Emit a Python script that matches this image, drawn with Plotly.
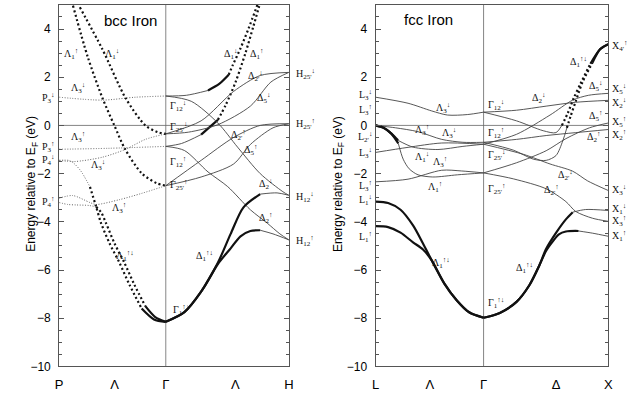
import plotly.graph_objects as go

# ---------------------------------------------------------------------------
# Band energies (eV, relative to E_F) along the high-symmetry paths.
# k is the distance along the path in units of 2*pi/a.
# bcc: P (0) - Gamma (0.866) - H (1.866);  fcc: L (0) - Gamma (0.866) - X (1.866)
# ---------------------------------------------------------------------------

# ----- bcc iron, Lambda line (P -> Gamma) -----
bcc_lam3_dn_hi_k = [0, 0.35, 0.62, 0.866]
bcc_lam3_dn_hi_e = [1.17, 1.05, 1.17, 1.22]
bcc_lam3_up_hi_k = [0, 0.4, 0.866]
bcc_lam3_up_hi_e = [-0.99, -0.95, -0.87]
bcc_lam3_dn_lo_k = [0, 0.12, 0.35, 0.54, 0.70, 0.866]
bcc_lam3_dn_lo_e = [-1.45, -1.5, -1.32, -0.99, -0.58, -0.35]
bcc_lam3_up_lo_k = [0, 0.11, 0.25, 0.30, 0.49, 0.67, 0.866]
bcc_lam3_up_lo_e = [-3.02, -2.91, -3.2, -3.28, -3.08, -2.82, -2.5]
bcc_lam1_dn_sp_k = [0.168, 0.35, 0.54, 0.70, 0.80, 0.866]
bcc_lam1_dn_sp_e = [4.9, 3.17, 1.13, 0.0, -0.28, -0.35]
bcc_lam1_up_sp_k = [0.112, 0.232, 0.352, 0.448, 0.536, 0.673, 0.793, 0.866]
bcc_lam1_up_sp_e = [4.97, 2.84, 1.13, 0.0, -0.99, -2.0, -2.4, -2.5]
bcc_lam1_dn_lo_k = [0, 0.09, 0.17, 0.25, 0.30, 0.34, 0.41, 0.49, 0.57, 0.67, 0.77, 0.866]
bcc_lam1_dn_lo_e = [-1.45, -1.47, -1.85, -2.55, -3.37, -4.05, -4.9, -5.7, -6.6, -7.6, -8.05, -8.15]
bcc_lam1_up_lo_k = [0, 0.07, 0.14, 0.24, 0.30, 0.34, 0.38, 0.45, 0.53, 0.61, 0.70, 0.78, 0.866]
bcc_lam1_up_lo_e = [-3.2, -3.28, -3.3, -3.32, -3.38, -3.6, -4.05, -4.9, -5.7, -6.6, -7.5, -7.95, -8.15]

# ----- bcc iron, Delta line (Gamma -> H) -----
bcc_del1_dn_hi_k = [0.866, 1.033, 1.209, 1.30, 1.377, 1.41, 1.473, 1.537, 1.61]
bcc_del1_dn_hi_e = [1.22, 1.25, 1.45, 1.72, 2.1, 2.5, 3.2, 4.0, 5.0]
bcc_del1_up_hi_k = [0.866, 0.994, 1.153, 1.289, 1.353, 1.433, 1.513, 1.577, 1.625]
bcc_del1_up_hi_e = [-0.87, -0.75, -0.38, 0.23, 0.85, 1.8, 3.0, 4.1, 4.95]
bcc_del2_dn_k = [0.866, 1.073, 1.289, 1.449, 1.633, 1.817, 1.866]
bcc_del2_dn_e = [1.22, 1.0, 0.1, -0.9, -2.0, -2.75, -2.9]
bcc_del2_up_k = [0.866, 1.017, 1.209, 1.369, 1.553, 1.689, 1.793, 1.866]
bcc_del2_up_e = [-0.87, -1.04, -1.93, -2.54, -3.5, -4.05, -4.5, -4.75]
bcc_del2p_dn_k = [0.866, 1.153, 1.417, 1.633, 1.866]
bcc_del2p_dn_e = [-0.35, 0.19, 1.41, 2.07, 2.2]
bcc_del5_dn_k = [0.866, 1.05, 1.289, 1.553, 1.72, 1.866]
bcc_del5_dn_e = [-0.35, -0.28, 0.03, 0.8, 1.8, 2.2]
bcc_del2p_up_k = [0.866, 1.153, 1.417, 1.633, 1.866]
bcc_del2p_up_e = [-2.5, -1.45, -0.5, 0.0, 0.07]
bcc_del5_up_k = [0.866, 1.153, 1.417, 1.553, 1.737, 1.866]
bcc_del5_up_e = [-2.5, -2.14, -1.6, -0.79, -0.1, 0.07]
bcc_del1_dn_lo_k = [0.866, 1.017, 1.153, 1.289, 1.393, 1.497, 1.633, 1.77, 1.866]
bcc_del1_dn_lo_e = [-8.15, -7.75, -6.9, -5.7, -4.5, -3.4, -2.85, -2.8, -2.9]
bcc_del1_up_lo_k = [0.866, 1.017, 1.153, 1.289, 1.393, 1.473, 1.553, 1.633, 1.737, 1.866]
bcc_del1_up_lo_e = [-8.15, -7.75, -6.9, -5.75, -5.1, -4.6, -4.38, -4.35, -4.5, -4.75]

# ----- fcc iron, Lambda line (L -> Gamma) -----
fcc_lam3_dn_hi_k = [0, 0.26, 0.45, 0.577, 0.735, 0.866]
fcc_lam3_dn_hi_e = [1.17, 0.92, 0.6, 0.43, 0.45, 0.55]
fcc_lam3_up_hi_k = [0, 0.16, 0.34, 0.53, 0.70, 0.866]
fcc_lam3_up_hi_e = [0.0, -0.1, -0.26, -0.58, -0.7, -0.7]
fcc_lam3_dn_lo_k = [0, 0.26, 0.53, 0.866]
fcc_lam3_dn_lo_e = [-1.12, -0.91, -0.73, -0.78]
fcc_lam3_up_lo_k = [0, 0.26, 0.53, 0.69, 0.866]
fcc_lam3_up_lo_e = [-2.34, -2.23, -1.86, -1.89, -1.97]
fcc_lam1_dn_sp_k = [0, 0.063, 0.126, 0.18, 0.30, 0.50, 0.70, 0.866]
fcc_lam1_dn_sp_e = [0.0, -0.1, -0.34, -0.62, -0.9, -1.0, -0.87, -0.78]
fcc_lam1_up_sp_k = [0, 0.063, 0.126, 0.182, 0.221, 0.269, 0.34, 0.458, 0.656, 0.866]
fcc_lam1_up_sp_e = [0.0, -0.1, -0.34, -0.75, -1.4, -1.8, -2.05, -2.14, -2.05, -1.97]
fcc_lam1_lo_k = [0, 0.1, 0.2, 0.3, 0.38, 0.45, 0.55, 0.65, 0.75, 0.866]
fcc_lam1_dn_lo_e = [-3.16, -3.22, -3.5, -4.15, -4.9, -5.6, -6.55, -7.25, -7.75, -7.98]
fcc_lam1_up_lo_e = [-4.18, -4.22, -4.45, -4.85, -5.15, -5.6, -6.55, -7.25, -7.75, -7.98]

# ----- fcc iron, Delta line (Gamma -> X) -----
fcc_del1_dn_lo_k = [0.866, 0.996, 1.13, 1.233, 1.312, 1.368, 1.447, 1.526, 1.581, 1.684, 1.866]
fcc_del1_dn_lo_e = [-7.98, -7.78, -7.32, -6.63, -5.82, -5.12, -4.46, -3.9, -3.6, -3.49, -3.53]
fcc_del1_up_lo_k = [0.866, 0.996, 1.13, 1.233, 1.312, 1.368, 1.423, 1.47, 1.526, 1.628, 1.739, 1.866]
fcc_del1_up_lo_e = [-7.98, -7.78, -7.32, -6.63, -5.82, -5.2, -4.8, -4.52, -4.4, -4.38, -4.47, -4.6]
fcc_del2p_up_k = [0.866, 1.107, 1.368, 1.526, 1.605, 1.739, 1.866]
fcc_del2p_up_e = [-1.97, -2.22, -2.63, -3.16, -3.57, -3.85, -3.98]
fcc_del2p_dn_k = [0.866, 1.186, 1.399, 1.581, 1.70, 1.866]
fcc_del2p_dn_e = [-0.78, -1.2, -1.6, -1.9, -2.3, -2.7]
fcc_del5_up_k = [0.866, 1.13, 1.368, 1.526, 1.715, 1.866]
fcc_del5_up_e = [-1.97, -1.55, -1.05, -0.55, -0.1, 0.1]
fcc_del5_dn_k = [0.866, 1.13, 1.399, 1.581, 1.708, 1.866]
fcc_del5_dn_e = [-0.78, -0.37, 0.43, 1.05, 1.25, 1.33]
fcc_del2_k = [0.866, 1.13, 1.368, 1.605, 1.866]
fcc_del2_dn_e = [0.55, 0.63, 0.8, 0.96, 1.04]
fcc_del2_up_e = [-0.7, -0.58, -0.42, -0.3, -0.17]
fcc_del1_dn_hi_k = [0.866, 1.13, 1.344, 1.447, 1.494, 1.542, 1.589, 1.644, 1.723, 1.802, 1.866]
fcc_del1_dn_hi_e = [0.55, 0.19, -0.22, -0.3, 0.0, 0.52, 1.13, 1.74, 2.56, 3.17, 3.37]
fcc_del1_up_hi_k = [0.866, 1.107, 1.265, 1.368, 1.447, 1.502, 1.534, 1.565, 1.605, 1.66, 1.739, 1.802, 1.866]
fcc_del1_up_hi_e = [-0.7, -1.03, -1.4, -1.45, -1.25, -0.63, -0.1, 0.4, 1.0, 1.8, 2.6, 3.17, 3.37]

# axis tick labels
bcc_kpts = [0, 0.45, 0.866, 1.43, 1.866]
bcc_klabels = ["P", "Λ", "Γ", "Λ", "H"]
fcc_kpts = [0, 0.435, 0.866, 1.447, 1.866]
fcc_klabels = ["L", "Λ", "Γ", "Δ", "X"]
e_ticks = [-10, -8, -6, -4, -2, 0, 2, 4]
K_END = 1.866

# ---------------------------------------------------------------------------
LINE = {
    "thin": dict(color="#444444", width=0.9),
    "dot": dict(color="#666666", width=1.0, dash="1px,1.6px"),
    "thick": dict(color="#111111", width=2.2),
    "sp": dict(color="#111111", width=2.2, dash="2px,2.6px"),
}

fig = go.Figure()


def add_band(k, e, panel, segs=None):
    xa, ya = ("x", "y") if panel == 1 else ("x2", "y2")
    if segs is None:
        segs = [(0, len(k) - 1, "thin")]
    for i0, i1, st in segs:
        fig.add_trace(go.Scatter(
            x=k[i0:i1 + 1], y=e[i0:i1 + 1], mode="lines",
            line=dict(shape="spline", smoothing=0.8, **LINE[st]),
            xaxis=xa, yaxis=ya, hoverinfo="skip", showlegend=False))


def full(k, style):
    return [(0, len(k) - 1, style)]


# bcc, P - Gamma
add_band(bcc_lam3_dn_hi_k, bcc_lam3_dn_hi_e, 1, full(bcc_lam3_dn_hi_k, "dot"))
add_band(bcc_lam3_up_hi_k, bcc_lam3_up_hi_e, 1, full(bcc_lam3_up_hi_k, "dot"))
add_band(bcc_lam3_dn_lo_k, bcc_lam3_dn_lo_e, 1, full(bcc_lam3_dn_lo_k, "dot"))
add_band(bcc_lam3_up_lo_k, bcc_lam3_up_lo_e, 1, full(bcc_lam3_up_lo_k, "dot"))
add_band(bcc_lam1_dn_sp_k, bcc_lam1_dn_sp_e, 1, full(bcc_lam1_dn_sp_k, "sp"))
add_band(bcc_lam1_up_sp_k, bcc_lam1_up_sp_e, 1, full(bcc_lam1_up_sp_k, "sp"))
add_band(bcc_lam1_dn_lo_k, bcc_lam1_dn_lo_e, 1, [(0, 3, "dot"), (3, 9, "sp"), (9, 11, "thick")])
add_band(bcc_lam1_up_lo_k, bcc_lam1_up_lo_e, 1, [(0, 4, "dot"), (4, 10, "sp"), (10, 12, "thick")])

# bcc, Gamma - H
add_band(bcc_del1_dn_hi_k, bcc_del1_dn_hi_e, 1, [(0, 2, "thin"), (2, 4, "thick"), (4, 8, "sp")])
add_band(bcc_del1_up_hi_k, bcc_del1_up_hi_e, 1, [(0, 2, "thin"), (2, 3, "thick"), (3, 8, "sp")])
add_band(bcc_del2_dn_k, bcc_del2_dn_e, 1)
add_band(bcc_del2_up_k, bcc_del2_up_e, 1)
add_band(bcc_del2p_dn_k, bcc_del2p_dn_e, 1)
add_band(bcc_del5_dn_k, bcc_del5_dn_e, 1)
add_band(bcc_del2p_up_k, bcc_del2p_up_e, 1)
add_band(bcc_del5_up_k, bcc_del5_up_e, 1)
add_band(bcc_del1_dn_lo_k, bcc_del1_dn_lo_e, 1, [(0, 6, "thick"), (6, 8, "thin")])
add_band(bcc_del1_up_lo_k, bcc_del1_up_lo_e, 1, [(0, 7, "thick"), (7, 9, "thin")])

# fcc, L - Gamma
add_band(fcc_lam3_dn_hi_k, fcc_lam3_dn_hi_e, 2)
add_band(fcc_lam3_up_hi_k, fcc_lam3_up_hi_e, 2)
add_band(fcc_lam3_dn_lo_k, fcc_lam3_dn_lo_e, 2)
add_band(fcc_lam3_up_lo_k, fcc_lam3_up_lo_e, 2)
add_band(fcc_lam1_dn_sp_k, fcc_lam1_dn_sp_e, 2, [(0, 3, "thick"), (3, 7, "thin")])
add_band(fcc_lam1_up_sp_k, fcc_lam1_up_sp_e, 2, [(0, 3, "thick"), (3, 9, "thin")])
add_band(fcc_lam1_lo_k, fcc_lam1_dn_lo_e, 2, full(fcc_lam1_lo_k, "thick"))
add_band(fcc_lam1_lo_k, fcc_lam1_up_lo_e, 2, full(fcc_lam1_lo_k, "thick"))

# fcc, Gamma - X
add_band(fcc_del1_dn_lo_k, fcc_del1_dn_lo_e, 2, [(0, 8, "thick"), (8, 10, "thin")])
add_band(fcc_del1_up_lo_k, fcc_del1_up_lo_e, 2, [(0, 9, "thick"), (9, 11, "thin")])
add_band(fcc_del2p_up_k, fcc_del2p_up_e, 2)
add_band(fcc_del2p_dn_k, fcc_del2p_dn_e, 2)
add_band(fcc_del5_up_k, fcc_del5_up_e, 2)
add_band(fcc_del5_dn_k, fcc_del5_dn_e, 2)
add_band(fcc_del2_k, fcc_del2_dn_e, 2)
add_band(fcc_del2_k, fcc_del2_up_e, 2)
add_band(fcc_del1_dn_hi_k, fcc_del1_dn_hi_e, 2, [(0, 4, "thin"), (4, 8, "sp"), (8, 10, "thick")])
add_band(fcc_del1_up_hi_k, fcc_del1_up_hi_e, 2, [(0, 6, "thin"), (6, 10, "sp"), (10, 12, "thick")])

# ---------------------------------------------------------------------------
# Fermi level and Gamma-point guide lines
for xa, ya in (("x", "y"), ("x2", "y2")):
    fig.add_shape(type="line", xref=xa, yref=ya, x0=0, x1=K_END, y0=0, y1=0,
                  line=dict(color="#666", width=0.8), layer="below")
    fig.add_shape(type="line", xref=xa, yref=ya, x0=0.866, x1=0.866, y0=-10, y1=5,
                  line=dict(color="#666", width=0.8), layer="below")

# ---------------------------------------------------------------------------
# symmetry labels (text, panel, k, E, anchor)
UP, DN, UD = "↑", "↓", "↑↓"


def lab(base, sub, spin):
    return f"{base}<sub>{sub}</sub><sup>{spin}</sup>"


band_labels = [
    # bcc
    (lab("Λ", "1", UP), 1, 0.096, 2.97, "center"),
    (lab("Λ", "1", DN), 1, 0.432, 2.97, "center"),
    (lab("Λ", "3", DN), 1, 0.152, 1.54, "center"),
    (lab("Λ", "3", UP), 1, 0.152, -0.5, "center"),
    (lab("Λ", "3", DN), 1, 0.312, -1.64, "center"),
    (lab("Λ", "3", UP), 1, 0.488, -3.44, "center"),
    (lab("Λ", "1", UD), 1, 0.536, -5.4, "center"),
    (lab("P", "3", DN), 1, -0.016, 1.13, "right"),
    (lab("P", "3", UP), 1, -0.016, -0.9, "right"),
    (lab("P", "4", DN), 1, -0.016, -1.44, "right"),
    (lab("P", "4", UP), 1, -0.016, -3.16, "right"),
    (lab("Γ", "12", DN), 1, 0.881, 0.8, "left"),
    (lab("Γ", "25'", DN), 1, 0.881, -0.06, "left"),
    (lab("Γ", "12", UP), 1, 0.881, -1.52, "left"),
    (lab("Γ", "25'", UP), 1, 0.881, -2.46, "left"),
    (lab("Γ", "1", UD), 1, 0.905, -7.65, "left"),
    (lab("Δ", "1", UD), 1, 1.177, -5.4, "center"),
    (lab("Δ", "2", UP), 1, 1.673, -3.85, "center"),
    (lab("Δ", "1", DN), 1, 1.393, 2.97, "center"),
    (lab("Δ", "1", UP), 1, 1.601, 2.97, "center"),
    (lab("Δ", "2'", DN), 1, 1.593, 2.07, "center"),
    (lab("Δ", "5", DN), 1, 1.657, 1.13, "center"),
    (lab("Δ", "2'", UP), 1, 1.457, -0.38, "center"),
    (lab("Δ", "5", UP), 1, 1.553, -1.03, "center"),
    (lab("Δ", "2", DN), 1, 1.673, -2.42, "center"),
    (lab("H", "25'", DN), 1, 1.905, 2.15, "left"),
    (lab("H", "25'", UP), 1, 1.905, 0.07, "left"),
    (lab("H", "12", DN), 1, 1.905, -2.96, "left"),
    (lab("H", "12", UP), 1, 1.905, -4.8, "left"),
    # fcc
    (lab("L", "3", DN), 2, -0.01, 1.25, "right"),
    (lab("L", "3", UP), 2, -0.01, 0.64, "right"),
    (lab("L", "2'", DN), 2, -0.01, -0.5, "right"),
    (lab("L", "3", DN), 2, -0.01, -1.15, "right"),
    (lab("L", "3", UP), 2, -0.01, -2.5, "right"),
    (lab("L", "1", DN), 2, -0.01, -3.1, "right"),
    (lab("L", "1", UP), 2, -0.01, -4.62, "right"),
    (lab("Λ", "3", DN), 2, 0.538, 0.72, "center"),
    (lab("Λ", "3", UP), 2, 0.372, -0.17, "center"),
    (lab("Λ", "3", DN), 2, 0.585, -0.3, "center"),
    (lab("Λ", "1", DN), 2, 0.372, -1.33, "center"),
    (lab("Λ", "3", UP), 2, 0.514, -1.52, "center"),
    (lab("Λ", "1", UP), 2, 0.474, -2.55, "center"),
    (lab("Λ", "1", UD), 2, 0.522, -5.7, "center"),
    (lab("Γ", "1", UD), 2, 0.885, -7.37, "left"),
    (lab("Δ", "1", UD), 2, 1.194, -5.9, "center"),
    (lab("Γ", "12", DN), 2, 0.885, 0.85, "left"),
    (lab("Γ", "12", UP), 2, 0.885, -0.3, "left"),
    (lab("Γ", "25'", DN), 2, 0.885, -1.24, "left"),
    (lab("Γ", "25'", UP), 2, 0.885, -2.63, "left"),
    (lab("Δ", "2", DN), 2, 1.304, 1.13, "center"),
    (lab("Δ", "1", UD), 2, 1.628, 2.64, "center"),
    (lab("Δ", "5", DN), 2, 1.763, 1.65, "center"),
    (lab("Δ", "5", UP), 2, 1.763, 0.39, "center"),
    (lab("Δ", "2", UP), 2, 1.747, -0.5, "center"),
    (lab("Δ", "2'", DN), 2, 1.526, -2.06, "center"),
    (lab("Δ", "2'", UP), 2, 1.407, -2.67, "center"),
    (lab("X", "4'", UP), 2, 1.881, 3.3, "left"),
    (lab("X", "5", DN), 2, 1.881, 1.52, "left"),
    (lab("X", "2", DN), 2, 1.881, 0.95, "left"),
    (lab("X", "5", UP), 2, 1.881, 0.15, "left"),
    (lab("X", "2", UP), 2, 1.881, -0.38, "left"),
    (lab("X", "3", DN), 2, 1.881, -2.67, "left"),
    (lab("X", "1", DN), 2, 1.881, -3.45, "left"),
    (lab("X", "3", UP), 2, 1.881, -3.98, "left"),
    (lab("X", "1", UP), 2, 1.881, -4.6, "left"),
]

# positions along k are given in path units and placed via the axis domain,
# so labels just outside the panel edges are still drawn
for text, panel, kx, ey, anchor in band_labels:
    fig.add_annotation(
        text=text, x=kx / K_END, y=ey,
        xref="x domain" if panel == 1 else "x2 domain",
        yref="y" if panel == 1 else "y2", xanchor=anchor, yanchor="middle",
        showarrow=False, font=dict(family="Liberation Serif", size=10, color="#111"))

# panel titles
fig.add_annotation(text="bcc Iron", x=0.576, y=4.35, xref="x", yref="y", showarrow=False,
                   font=dict(family="Liberation Sans", size=15, color="black"))
fig.add_annotation(text="fcc Iron", x=0.427, y=4.4, xref="x2", yref="y2", showarrow=False,
                   font=dict(family="Liberation Sans", size=15, color="black"))

# y-axis titles
for px in (0.030, 0.540):
    fig.add_annotation(text="Energy relative to E<sub>F</sub> (eV)", x=px, y=0.53,
                       xref="paper", yref="paper", textangle=-90, showarrow=False,
                       font=dict(family="Liberation Sans", size=12, color="black"))

# ---------------------------------------------------------------------------
frame = dict(showline=True, linecolor="#555", linewidth=1, showgrid=False, zeroline=False)
xfont = dict(family="Liberation Sans", size=13, color="black")
yfont = dict(family="Liberation Sans", size=12, color="black")
yax = dict(range=[-10, 5], tickvals=e_ticks, ticks="inside", ticklen=5, tickcolor="#555",
           mirror="ticks", tickfont=yfont, ticklabelstandoff=5,
           minor=dict(dtick=0.5, ticks="inside", ticklen=3, tickcolor="#555"), **frame)

fig.update_layout(
    width=629, height=399, margin=dict(l=0, r=0, t=0, b=0),
    paper_bgcolor="white", plot_bgcolor="white", showlegend=False,
    xaxis=dict(domain=[0.089, 0.4595], range=[0, K_END], tickvals=bcc_kpts,
               ticktext=bcc_klabels, ticks="", mirror=True, tickfont=xfont,
               ticklabelstandoff=6, anchor="y", **frame),
    yaxis=dict(domain=[0.0652, 0.9875], anchor="x", **yax),
    xaxis2=dict(domain=[0.5994, 0.9746], range=[0, K_END], tickvals=fcc_kpts,
                ticktext=fcc_klabels, ticks="", mirror=True, tickfont=xfont,
                ticklabelstandoff=6, anchor="y2", **frame),
    yaxis2=dict(domain=[0.0652, 0.9875], anchor="x2", **yax),
)

fig.write_html("out.html")
